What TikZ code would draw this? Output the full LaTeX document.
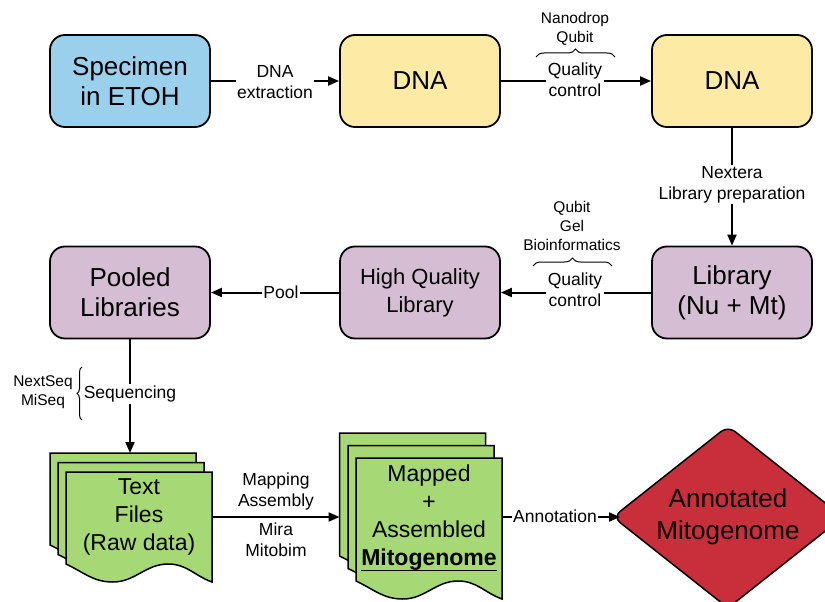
\documentclass[tikz,border=0pt]{standalone}
\usepackage{fontspec}
\setmainfont{Liberation Sans}
\usetikzlibrary{arrows.meta,decorations.pathreplacing}

\definecolor{specblue}{RGB}{154,208,236}
\definecolor{dnayellow}{RGB}{253,234,165}
\definecolor{libpurple}{RGB}{213,190,212}
\definecolor{filegreen}{RGB}{166,216,118}
\definecolor{annred}{RGB}{201,46,59}

% thick underline below a word
\newcommand{\thickul}[1]{\setbox0\hbox{#1}\rlap{\copy0}\raisebox{-6pt}{\rule{\wd0}{1.8pt}}}

% one sheet of a stacked document: left x, top y, width, height
\newcommand{\docsheet}[4]{%
  \filldraw[sheet] (#1,#2) -- ({#1+#3},#2) -- ({#1+#3},{#2+#4})
    to[out=160,in=0] ({#1+0.70*#3},{#2+#4-18})
    to[out=180,in=0] ({#1+0.32*#3},{#2+#4})
    to[out=180,in=-25] (#1,{#2+#4-18}) -- cycle;}

\begin{document}
\begin{tikzpicture}[x=1pt,y=-1pt,
  stepbox/.style={draw, line width=1.8pt, rounded corners=15pt,
    minimum width=160pt, minimum height=92pt, align=center,
    font=\fontsize{26}{30}\selectfont},
  sheet/.style={fill=filegreen, draw=black, line width=1.5pt},
  conn/.style={line width=2pt},
  arr/.style={conn, -{Triangle[length=11pt,width=9pt]}},
  edgelbl/.style={fill=white, inner sep=1.5pt, align=center,
    font=\fontsize{17.5}{21}\selectfont},
  smalllbl/.style={inner sep=1pt, align=center,
    font=\fontsize{15.5}{19}\selectfont},
  bracedeco/.style={decorate, decoration={brace, amplitude=8pt}, line width=1pt}]

\useasboundingbox (0,0) rectangle (825,602);

% ---- top row ----
\node[stepbox, fill=specblue] (spec) at (130,81) {Specimen\\in ETOH};
\node[stepbox, fill=dnayellow] (dna1) at (420,81) {DNA};
\node[stepbox, fill=dnayellow] (dna2) at (732,81) {DNA};

% ---- middle row ----
\node[stepbox, fill=libpurple] (lib) at (732,292.5) {Library\\(Nu + Mt)};
\node[stepbox, fill=libpurple, font=\fontsize{22}{28}\selectfont] (hq) at (420,292.5) {High Quality\\Library};
\node[stepbox, fill=libpurple] (pool) at (130,292.5) {Pooled\\Libraries};

% ---- raw data stack ----
\docsheet{50}{453}{146}{110}
\docsheet{58}{462.5}{146}{110}
\docsheet{66}{472}{146}{110}
\node[align=center, font=\fontsize{23}{28}\selectfont] (raw) at (139,517) {Text\\Files\\(Raw data)};
\coordinate (rawIn) at (130,453);
\coordinate (rawOut) at (212,517);

% ---- assembled stack ----
\docsheet{339.5}{433}{146}{141}
\docsheet{348}{445.5}{146}{141}
\docsheet{356}{458}{146}{141}
\node[align=center, font=\fontsize{23}{28}\selectfont] (asm) at (429,518) {Mapped\\+\\Assembled\\\thickul{\textbf{Mitogenome}}};
\coordinate (asmIn) at (339.5,517);
\coordinate (asmOut) at (502,517);

% ---- annotated result ----
\filldraw[fill=annred, draw=black, line width=1.5pt, rounded corners=9pt]
  (613,517) -- (728,426) -- (843,517) -- (728,608) -- cycle;
\node[align=center, font=\fontsize{26}{32}\selectfont] (ann) at (728,517) {Annotated\\Mitogenome};
\coordinate (annIn) at (620,517);

% ---- connectors ----
\draw[arr] (spec.east) -- (dna1.west);
\node[edgelbl] (lx) at (275,82.5) {DNA\\extraction};

\draw[arr] (dna1.east) -- (dna2.west);
\node[edgelbl] (qc1) at (575,79.5) {Quality\\control};
\draw[bracedeco] (536,57) -- (615,57);
\node[smalllbl] (qc1tools) at (575,28.5) {Nanodrop\\Qubit};

\draw[arr] (dna2.south) -- (lib.north);
\node[edgelbl] (nx) at (732,184.5) {Nextera\\Library preparation};

\draw[arr] (lib.west) -- (hq.east);
\node[edgelbl] (qc2) at (575,290) {Quality\\control};
\draw[bracedeco] (533,266) -- (612,266);
\node[smalllbl] (qc2tools) at (572,226) {Qubit\\Gel\\Bioinformatics};

\draw[arr] (hq.west) -- (pool.east);
\node[edgelbl] (pl) at (281,292) {Pool};

\draw[arr] (pool.south) -- (rawIn);
\node[edgelbl] (sq) at (130,394) {Sequencing};
\draw[bracedeco, decoration={brace, amplitude=5pt}] (82,420) -- (82,367);
\node[smalllbl] (sqtools) at (43,392.5) {NextSeq\\MiSeq};

\draw[arr] (rawOut) -- (asmIn);
\node[smalllbl, font=\fontsize{17.5}{21}\selectfont] (mapA) at (276,491.5) {Mapping\\Assembly};
\node[smalllbl, font=\fontsize{17.5}{21}\selectfont] (mapB) at (276,539.5) {Mira\\Mitobim};

\draw[arr] (asmOut) -- (annIn);
\node[edgelbl] (an) at (555,516) {Annotation};

\end{tikzpicture}
\end{document}
